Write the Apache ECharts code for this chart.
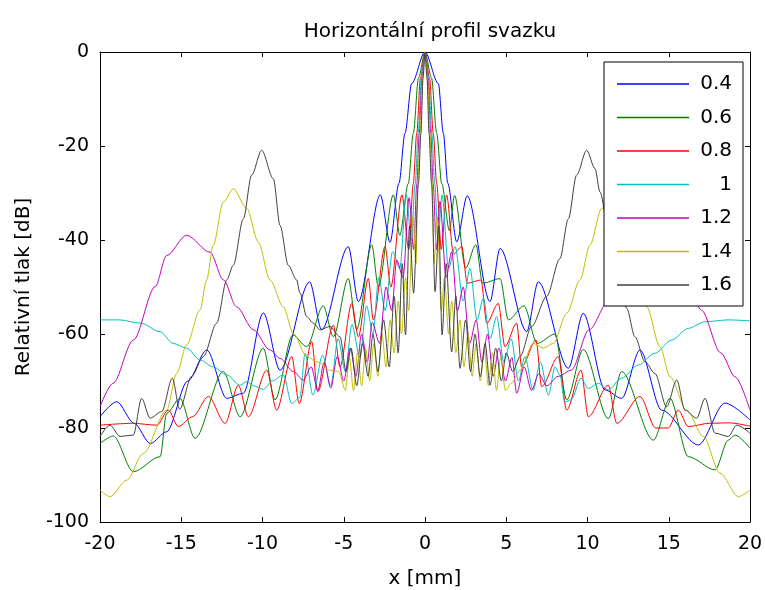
<!DOCTYPE html>
<html>
<head>
<meta charset="utf-8">
<script src="https://cdn.jsdelivr.net/npm/echarts@6/dist/echarts.min.js"></script>
<style>html,body{margin:0;padding:0;background:#fff}#c{width:765px;height:590px}</style>
</head>
<body>
<div id="c"></div>
<script>
var seriesNames = ['0.4', '0.6', '0.8', '1', '1.2', '1.4', '1.6'];
var xTicks = [-20, -15, -10, -5, 0, 5, 10, 15, 20];
var yTicks = [-100, -80, -60, -40, -20, 0];

var s04 = [[-20,-77.6],[-18.97,-74.4],[-17.9,-79],[-16.9,-83.3],[-15.9,-80.8],[-14.6,-70],[-13.43,-63.4],[-12.2,-73.7],[-11.18,-72.6],[-9.95,-55.5],[-8.92,-67.7],[-7.1,-48.9],[-6.36,-59.1],[-4.72,-41.4],[-4.1,-53.1],[-2.75,-30.4],[-2.15,-40.5],[-1.6,-27.9],[-1.23,-17.3],[-0.82,-6.7],[0,0],[0.82,-6.7],[1.13,-17.3],[1.4,-27.9],[1.95,-40.4],[2.6,-30.6],[4.0,-53.1],[4.62,-41.8],[6.26,-59.5],[6.97,-48.9],[8.82,-67.3],[9.74,-55.6],[11.08,-71.9],[12.1,-73.7],[13.23,-63.4],[14.56,-76.2],[16.82,-83.6],[18.46,-74.7],[20,-78.3]];

var s06 = [[-20,-83.3],[-19.18,-81.7],[-17.95,-89.3],[-16.3,-86.1],[-15.9,-76.9],[-15.08,-73.7],[-14.15,-82.2],[-12.41,-68],[-11.38,-77.6],[-9.95,-63],[-9.23,-74],[-8.14,-60.2],[-7.28,-62.7],[-6.26,-54],[-5.64,-60.6],[-4.72,-48.2],[-4.2,-59],[-3.28,-41],[-2.87,-50],[-1.95,-30.4],[-1.55,-39],[-1.03,-28],[-0.72,-17.3],[-0.4,-5.5],[0,0],[0.4,-5.5],[0.72,-17.3],[1.03,-28],[1.5,-38],[1.82,-30.5],[2.5,-46],[3.13,-41],[3.55,-49.2],[4.62,-48.2],[5.13,-57],[6.09,-54],[6.9,-62],[8.0,-60],[8.72,-74],[9.74,-63.3],[11.28,-78],[12.1,-68],[14.05,-82.6],[15.08,-73.7],[16.2,-86.1],[17.85,-88.9],[18.66,-82.6],[19.08,-81.5],[20,-84.3]];

var s08 = [[-20,-79.4],[-18,-79],[-16.5,-79.4],[-15.8,-76.2],[-15.18,-79.7],[-14.3,-77.6],[-13.33,-73.3],[-12.3,-79],[-11.49,-70.9],[-10.87,-77.6],[-9.74,-67.7],[-9.13,-76.2],[-8.2,-64.8],[-7.74,-74.8],[-6.97,-61.6],[-6.6,-72.3],[-5.64,-58.1],[-5.23,-67],[-4.51,-53.5],[-4.1,-60.6],[-3.49,-48.2],[-3.18,-57],[-2.46,-41.4],[-2.1,-50],[-1.42,-30.4],[-1.0,-42],[-0.72,-28],[-0.51,-17.3],[-0.28,-5.5],[0,0],[0.28,-5.5],[0.51,-17.3],[0.72,-28],[1.0,-42],[1.33,-30.4],[1.75,-43],[2.26,-41.4],[2.6,-49.2],[3.45,-48.5],[3.8,-57.7],[4.51,-53.5],[4.92,-62.7],[5.64,-57.7],[5.95,-67],[6.83,-61.3],[7.18,-71.2],[8.2,-64.8],[8.72,-76.2],[9.6,-67.7],[10.05,-77.6],[11.28,-70.9],[11.8,-79],[13.23,-73.3],[14.2,-80],[14.97,-80],[15.59,-76.2],[16.2,-79.7],[17.5,-79],[18.7,-78.9],[20,-79.6]];

var s10 = [[-20,-57],[-18.8,-57],[-17.5,-57.7],[-16.3,-59.5],[-15.5,-62],[-14.67,-63],[-13.85,-65.5],[-13.03,-67],[-12.2,-68.7],[-11.38,-70.9],[-10.97,-70.1],[-10.56,-71],[-9.95,-71.8],[-9.4,-70],[-8.72,-68.7],[-8.2,-74.8],[-7.7,-73.5],[-7.38,-64.1],[-6.9,-73],[-6.3,-64.5],[-5.8,-71],[-5.35,-61],[-4.9,-68],[-4.5,-58],[-4.0,-65],[-3.6,-54],[-3.2,-60],[-2.85,-48],[-2.45,-55],[-2.0,-42.5],[-1.55,-46],[-1.15,-30.4],[-0.85,-40],[-0.6,-28],[-0.42,-17.3],[-0.22,-5.5],[0,0],[0.22,-5.5],[0.42,-17.3],[0.6,-28],[0.8,-40],[1.05,-30.4],[1.45,-46],[1.85,-41.4],[2.35,-53],[2.77,-46],[3.2,-57],[3.59,-52.4],[4.0,-61],[4.41,-56.3],[4.85,-66],[5.3,-61],[5.75,-70],[6.15,-64.8],[6.65,-72],[7.1,-66],[7.6,-73],[8.0,-67],[8.3,-68.7],[8.6,-74.5],[9.0,-74],[9.6,-69.4],[10.05,-71.6],[10.67,-70.5],[11.28,-71.9],[12.1,-69.4],[13.13,-66.6],[14.15,-64.1],[15.18,-61.3],[16.2,-58.8],[17.23,-57.4],[18.66,-57],[20,-57.2]];

var s12 = [[-20,-75.5],[-19.2,-70.5],[-17.95,-61.3],[-16.6,-49.9],[-15.9,-43.3],[-14.67,-39],[-13.23,-42.6],[-12.4,-48.5],[-11.6,-54.2],[-10.56,-59.1],[-9.54,-63.4],[-8.92,-65.2],[-8.1,-68],[-7.49,-69.8],[-7.0,-67],[-6.6,-72],[-6.2,-66],[-5.8,-71.5],[-5.4,-64.8],[-5.0,-70],[-4.6,-63],[-4.25,-69],[-3.9,-60],[-3.55,-66],[-3.25,-57.5],[-2.8,-62],[-2.4,-50],[-2.05,-55],[-1.74,-44.3],[-1.35,-48],[-0.98,-31],[-0.7,-42],[-0.5,-28],[-0.35,-17.3],[-0.18,-5.5],[0,0],[0.18,-5.5],[0.35,-17.3],[0.5,-28],[0.7,-42],[0.92,-31.8],[1.3,-48],[1.64,-42.5],[2.0,-55],[2.35,-50],[2.75,-62],[3.15,-57],[3.5,-66],[3.85,-60],[4.2,-69],[4.55,-63],[4.95,-70],[5.35,-65],[5.64,-72.6],[6.1,-67],[6.55,-72],[7.0,-68.5],[7.5,-71],[8.2,-69],[9.0,-67.7],[10.1,-59.1],[11.3,-53],[12.4,-47],[13.3,-42],[14.7,-39],[15.9,-44],[17.0,-54.9],[18.2,-64],[19.08,-69.1],[20,-76.2]];

var s14 = [[-20,-93.2],[-19.38,-94.6],[-18.36,-91.1],[-17.33,-85.4],[-15.9,-76.2],[-15.28,-68.4],[-14.67,-62.3],[-13.85,-54.9],[-13.44,-48.5],[-13.03,-41.1],[-12.41,-31.9],[-11.8,-29.1],[-10.97,-33.3],[-10.26,-40.4],[-9.54,-48.5],[-8.72,-54.2],[-8.1,-59.9],[-7.28,-64.8],[-6.6,-66],[-5.85,-67.7],[-5.3,-68],[-4.9,-72],[-4.65,-65],[-4.4,-72],[-4.15,-64],[-3.9,-71],[-3.65,-63],[-3.4,-70],[-3.15,-62],[-2.9,-69],[-2.65,-60],[-2.4,-67],[-2.15,-57],[-1.9,-64],[-1.65,-53],[-1.45,-60],[-1.2,-48],[-1.0,-55],[-0.75,-35],[-0.55,-45],[-0.45,-28],[-0.3,-17.3],[-0.15,-5.5],[0,0],[0.15,-5.5],[0.3,-17.3],[0.45,-28],[0.55,-45],[0.75,-35],[1.0,-55],[1.2,-48],[1.45,-60],[1.65,-53],[1.9,-64],[2.15,-57],[2.4,-67],[2.65,-60],[2.9,-69],[3.15,-62],[3.4,-70],[3.65,-63],[3.9,-71],[4.15,-64],[4.4,-72],[4.65,-65],[4.95,-72],[5.3,-70.5],[5.85,-67.7],[6.66,-62],[7.28,-63],[7.9,-62],[8.72,-55.6],[9.54,-48.5],[10.15,-41.1],[10.87,-33.3],[11.8,-29.1],[12.5,-32],[13.1,-42],[13.64,-54.2],[14.46,-62.7],[15.08,-69.1],[16.1,-76.2],[17.13,-81.8],[18.15,-89.6],[19.28,-94.6],[20,-93.2]];

var s16 = [[-20,-81.8],[-19.38,-79.4],[-18.77,-81.8],[-17.95,-81.5],[-17.44,-73.7],[-16.92,-77.9],[-16.2,-76.5],[-15.55,-69.4],[-15.1,-76],[-14.36,-69],[-13.64,-64.8],[-12.82,-57.7],[-12.2,-48.5],[-11.8,-45.4],[-11.18,-35.5],[-10.67,-26.2],[-10.05,-20.9],[-9.33,-27],[-8.92,-36.9],[-8.41,-45.4],[-7.9,-48.5],[-7.69,-51.3],[-7.28,-56.3],[-6.87,-57.7],[-6.46,-59.1],[-5.85,-58.4],[-5.23,-60.6],[-4.85,-68],[-4.55,-63],[-4.2,-71],[-3.85,-62],[-3.5,-69],[-3.2,-60],[-2.9,-68],[-2.55,-57],[-2.2,-67],[-1.9,-52],[-1.65,-64],[-1.4,-45],[-1.2,-60.2],[-0.95,-37],[-0.7,-51.3],[-0.4,-28],[-0.25,-17.3],[-0.12,-5.5],[0,0],[0.12,-5.5],[0.25,-17.3],[0.4,-28],[0.62,-51],[0.85,-37],[1.05,-60.2],[1.3,-45],[1.64,-63.8],[1.9,-52],[2.15,-67.3],[2.5,-57],[2.8,-68],[3.08,-60],[3.4,-69.1],[3.7,-62],[4.0,-70.9],[4.35,-63],[4.7,-70],[5.0,-64],[5.4,-68],[5.85,-64.8],[6.56,-58.4],[7.49,-52],[8.3,-44],[8.82,-35.5],[9.33,-26.2],[9.95,-20.9],[10.46,-24.8],[10.77,-29.8],[11.3,-38],[11.9,-48],[12.41,-54.5],[12.92,-60.6],[13.54,-65.9],[14.15,-68.4],[14.87,-75.5],[15.49,-69.8],[16.0,-76.2],[16.72,-77.9],[17.23,-73.7],[17.85,-81.1],[18.66,-81.8],[19.18,-79.4],[20,-81.1]];

var seriesData = [s04, s06, s08, s10, s12, s14, s16];
var colors = ['#0000ff', '#008000', '#ff0000', '#00bfbf', '#bf00bf', '#bfbf00', '#404040'];

var FONT = 'DejaVu Sans, Verdana, sans-serif';
var chart = echarts.init(document.getElementById('c'), null, {renderer: 'canvas'});

var series = seriesData.map(function (d, i) {
  return {
    name: seriesNames[i], type: 'line', data: d,
    xAxisIndex: 0, yAxisIndex: 0,
    showSymbol: false, symbol: 'none', smooth: 0.3, smoothMonotone: 'x',
    lineStyle: {color: colors[i], width: 1}, itemStyle: {color: colors[i]},
    emphasis: {disabled: true}, animation: false
  };
});

var tickStyle = {show: true, inside: true, length: 5, lineStyle: {color: '#000', width: 1}};
var axisLine = {show: true, onZero: false, lineStyle: {color: '#000', width: 1}};

chart.setOption({
  animation: false,
  backgroundColor: '#fff',
  color: colors,
  title: {
    text: 'Horizontální profil svazku', left: 425, top: 17, textAlign: 'center',
    textStyle: {fontFamily: FONT, fontSize: 20, fontWeight: 'normal', color: '#000'}
  },
  legend: {
    orient: 'vertical', left: 604, top: 62, width: 139,
    padding: [12, 11, 11, 13],
    backgroundColor: '#fff', borderColor: '#000', borderWidth: 1,
    itemWidth: 72, itemHeight: 1.5, itemGap: 13.5, icon: 'rect',
    selectedMode: false,
    formatter: function (n) { return '{a|' + n + '}'; },
    textStyle: {fontFamily: FONT, fontSize: 20, color: '#000', lineHeight: 20,
      rich: {a: {width: 38, align: 'right', fontFamily: FONT, fontSize: 20, lineHeight: 20}}},
    data: seriesNames
  },
  grid: {left: 100, right: 15, top: 52, bottom: 68, containLabel: false, outerBoundsMode: 'none'},
  xAxis: [{
    type: 'value', min: xTicks[0], max: xTicks[xTicks.length - 1], interval: 5,
    position: 'bottom', axisLine: axisLine, axisTick: tickStyle, splitLine: {show: false},
    axisLabel: {margin: 13, fontFamily: FONT, fontSize: 19, color: '#000'},
    name: 'x [mm]', nameLocation: 'middle', nameGap: 47,
    nameTextStyle: {fontFamily: FONT, fontSize: 20, color: '#000'}
  }, {
    type: 'value', min: xTicks[0], max: xTicks[xTicks.length - 1], interval: 5,
    position: 'top', axisLine: axisLine, axisTick: tickStyle, splitLine: {show: false},
    axisLabel: {show: false}
  }],
  yAxis: [{
    type: 'value', min: yTicks[0], max: yTicks[yTicks.length - 1], interval: 20,
    position: 'left', axisLine: axisLine, axisTick: tickStyle, splitLine: {show: false},
    axisLabel: {margin: 11, fontFamily: FONT, fontSize: 19, color: '#000'},
    name: 'Relativní tlak [dB]', nameLocation: 'middle', nameGap: 66,
    nameTextStyle: {fontFamily: FONT, fontSize: 20, color: '#000'}
  }, {
    type: 'value', min: yTicks[0], max: yTicks[yTicks.length - 1], interval: 20,
    position: 'right', axisLine: axisLine, axisTick: tickStyle, splitLine: {show: false},
    axisLabel: {show: false}
  }],
  series: series
});
</script>
</body>
</html>
